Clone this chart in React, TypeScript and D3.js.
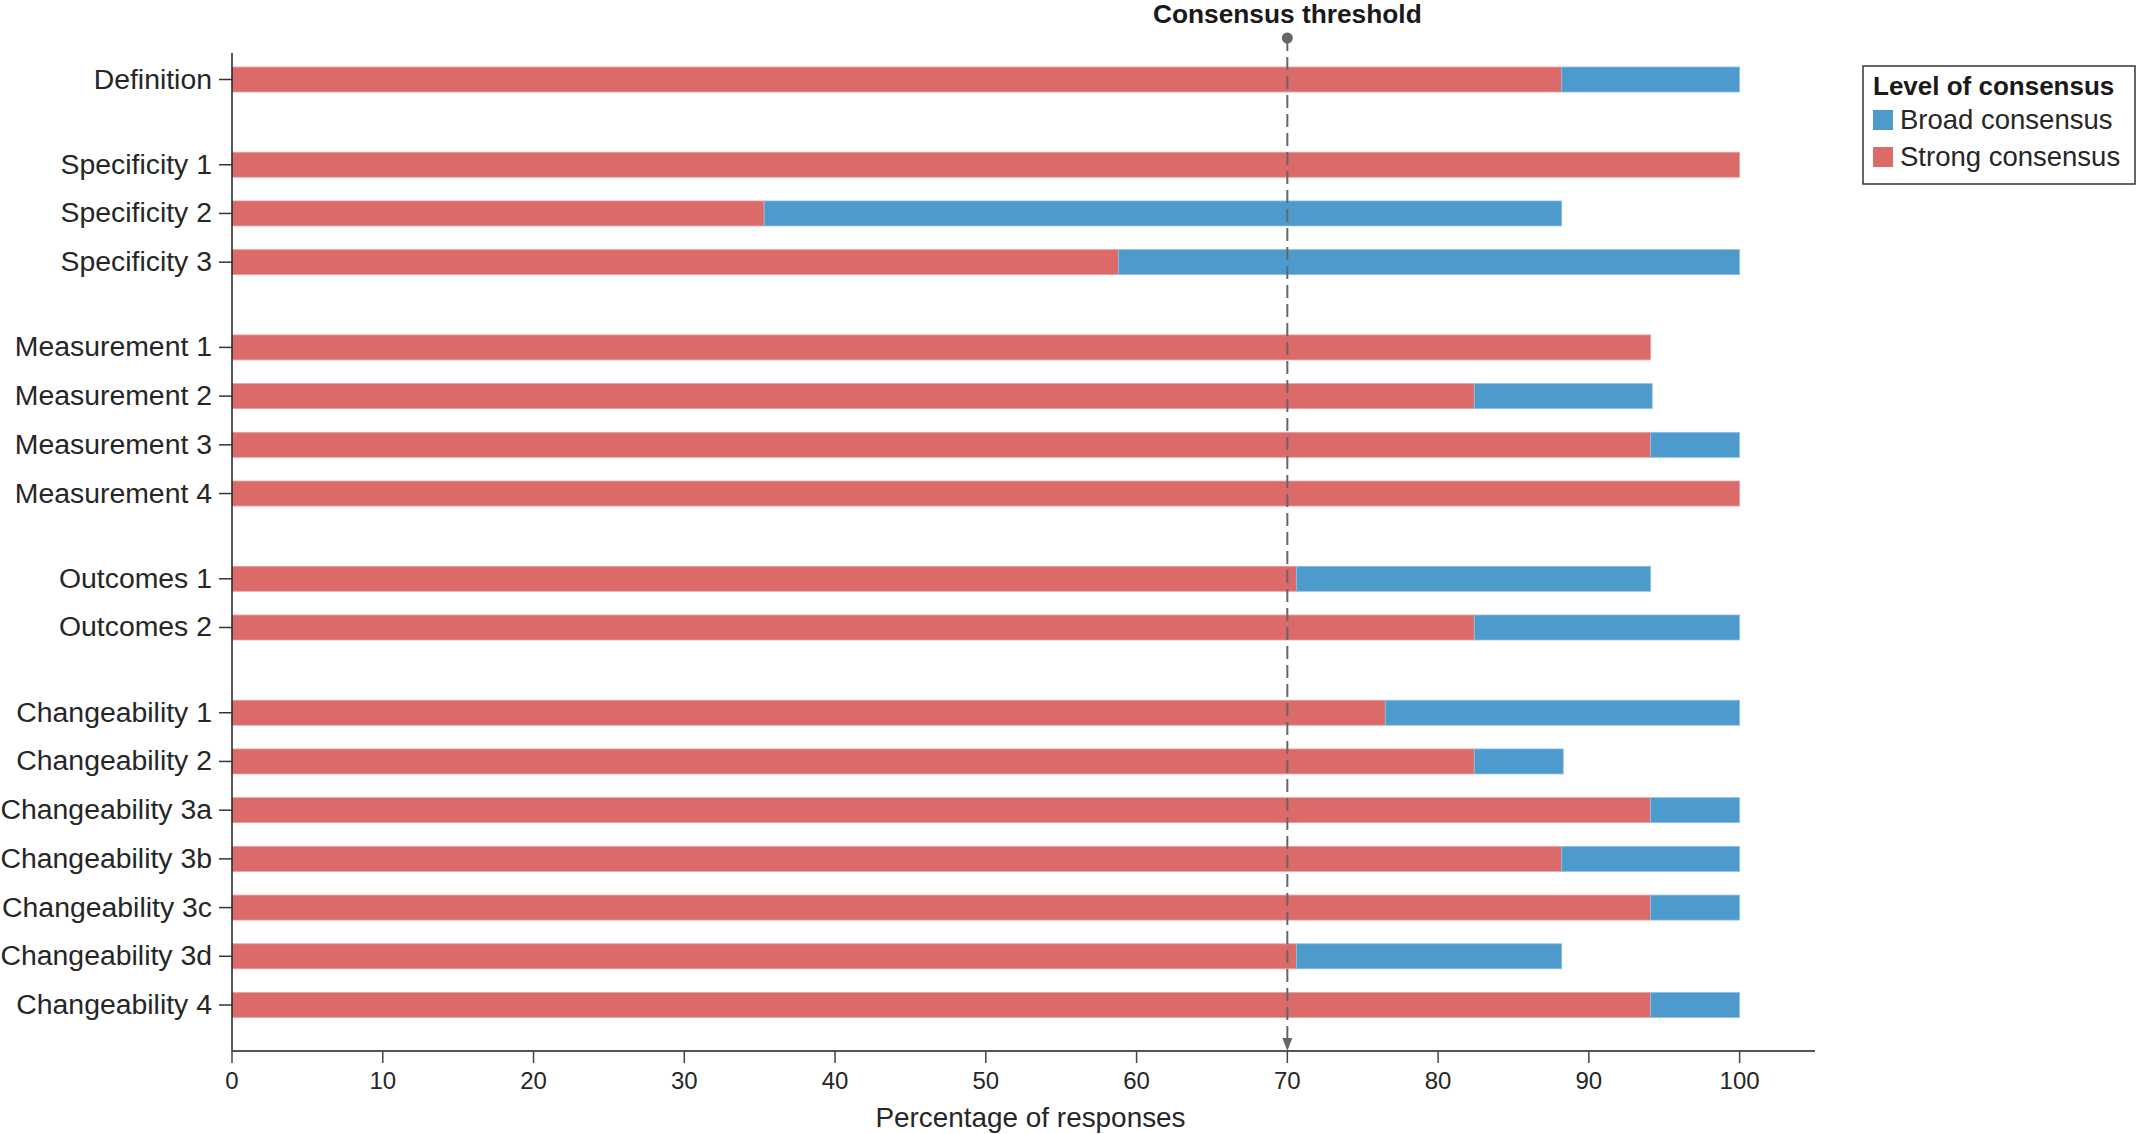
import React from "react";
import * as d3 from "d3";

const categories = [
  "Definition",
  "Specificity 1", "Specificity 2", "Specificity 3",
  "Measurement 1", "Measurement 2", "Measurement 3", "Measurement 4",
  "Outcomes 1", "Outcomes 2",
  "Changeability 1", "Changeability 2", "Changeability 3a", "Changeability 3b",
  "Changeability 3c", "Changeability 3d", "Changeability 4",
];
const groups = [0, 1, 1, 1, 2, 2, 2, 2, 3, 3, 4, 4, 4, 4, 4, 4, 4];
const strongConsensus = [88.2, 100, 35.3, 58.8, 94.1, 82.4, 94.1, 100, 70.6, 82.4, 76.5, 82.4, 94.1, 88.2, 94.1, 70.6, 94.1];
const broadConsensus = [11.8, 0, 52.9, 41.2, 0, 11.8, 5.9, 0, 23.5, 17.6, 23.5, 5.9, 5.9, 11.8, 5.9, 17.6, 5.9];
const xTicks = [0, 10, 20, 30, 40, 50, 60, 70, 80, 90, 100];
const threshold = 70;
const legendItems = [
  { label: "Broad consensus", key: "broad" },
  { label: "Strong consensus", key: "strong" },
];

const W = 2138;
const H = 1134;
const RED = "#DC6A69";
const BLUE = "#4D9ACD";
const FONT = "'Liberation Sans', Arial, Roboto, sans-serif";

export default function App() {
  const x = d3.scaleLinear().domain([0, 105]).range([232, 1815]);
  const slots = categories.map((_, i) => i + 0.75 * groups[i]);
  const y = d3.scaleLinear().domain([0, 19]).range([79.5, 1005]);
  const barH = 25;
  const axisY = 1051;
  const colors: Record<string, string> = { strong: RED, broad: BLUE };
  const textCol = "#262626";

  return (
    <svg width={W} height={H} style={{ position: "absolute", left: 0, top: 0, background: "#fff" }} fontFamily={FONT}>
      {/* bars */}
      {categories.map((c, i) => {
        const yc = y(slots[i]);
        const s = strongConsensus[i];
        const b = broadConsensus[i];
        return (
          <g key={c}>
            <rect x={x(0)} y={yc - barH / 2} width={x(s) - x(0)} height={barH} fill={RED} stroke="#e3a3a6" strokeWidth={0.8} />
            {b > 0 && (
              <rect x={x(s)} y={yc - barH / 2} width={x(s + b) - x(s)} height={barH} fill={BLUE} stroke="#8fc0e4" strokeWidth={0.8} />
            )}
          </g>
        );
      })}

      {/* y axis */}
      <line x1={x(0)} x2={x(0)} y1={53} y2={axisY} stroke="#222" strokeWidth={1.5} />
      {categories.map((c, i) => {
        const yc = y(slots[i]);
        return (
          <g key={"yl" + c}>
            <line x1={x(0) - 13} x2={x(0)} y1={yc} y2={yc} stroke="#333" strokeWidth={1.5} />
            <text x={x(0) - 20} y={yc + 9} textAnchor="end" fontSize={28.4} fill={textCol}>
              {c}
            </text>
          </g>
        );
      })}

      {/* x axis */}
      <line x1={x(0)} x2={x(105)} y1={axisY} y2={axisY} stroke="#555" strokeWidth={2} />
      {xTicks.map((t) => (
        <g key={"xt" + t}>
          <line x1={x(t)} x2={x(t)} y1={axisY} y2={axisY + 12} stroke="#444" strokeWidth={1.5} />
          <text x={x(t)} y={axisY + 38} textAnchor="middle" fontSize={24} fill={textCol}>
            {t}
          </text>
        </g>
      ))}
      <text x={(x(0) + x(105)) / 2 + 7} y={1127} textAnchor="middle" fontSize={27.9} fill={textCol}>
        Percentage of responses
      </text>

      {/* threshold */}
      <line x1={x(threshold)} x2={x(threshold)} y1={38} y2={axisY - 10} stroke="#666" strokeWidth={2} strokeDasharray="13 6" />
      <circle cx={x(threshold)} cy={38} r={5.5} fill="#666" />
      <path
        d={`M${x(threshold) - 5},${axisY - 13} L${x(threshold) + 5},${axisY - 13} L${x(threshold)},${axisY} Z`}
        fill="#666"
      />
      <text x={x(threshold)} y={23} textAnchor="middle" fontSize={26.3} fontWeight="bold" fill="#1a1a1a">
        Consensus threshold
      </text>

      {/* legend */}
      <rect x={1863} y={66} width={272} height={118} fill="#fff" stroke="#333" strokeWidth={1.5} />
      <text x={1873} y={95} fontSize={26} fontWeight="bold" fill="#1a1a1a">
        Level of consensus
      </text>
      {legendItems.map((it, k) => (
        <g key={it.key}>
          <rect x={1873} y={110 + k * 37} width={20} height={20} fill={colors[it.key]} />
          <text x={1900} y={129 + k * 37} fontSize={27.5} fill={textCol}>
            {it.label}
          </text>
        </g>
      ))}
    </svg>
  );
}
